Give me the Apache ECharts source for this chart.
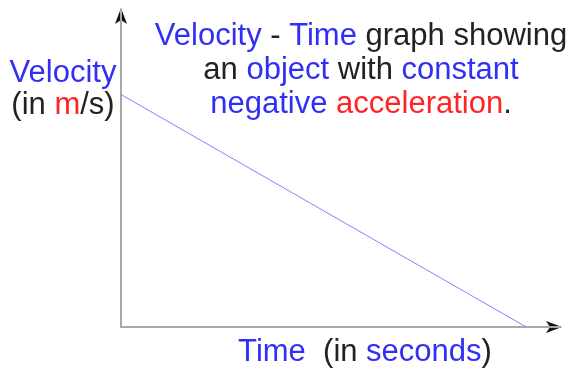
<!DOCTYPE html>
<html>
<head>
<meta charset="utf-8">
<script src="https://cdn.jsdelivr.net/npm/echarts@6/dist/echarts.min.js"></script>
<style>
  html, body { margin: 0; padding: 0; background: #fff; }
  #chart { width: 570px; height: 368px; }
</style>
</head>
<body>
<div id="chart"></div>
<script>
// data (no ticks shown, so units are arbitrary)
const times = [0, 12];
const velocities = [22, 0];
const xMax = 13;
const yMax = 30;

const BLUE = "#2f2ff5";
const RED = "#ff2424";
const DARK = "#222";
const FONT = "Liberation Sans, Arial, sans-serif";

const chart = echarts.init(document.getElementById("chart"));

// same font on every rich token, only colour changes
const rich = (size) => ({
  b: { color: BLUE, fontSize: size, fontFamily: FONT },
  r: { color: RED, fontSize: size, fontFamily: FONT },
  k: { color: DARK, fontSize: size, fontFamily: FONT },
});

const option = {
  animation: false,
  backgroundColor: "#fff",
  grid: { left: 121, right: 10, top: 10, bottom: 41 },
  title: [
    {
      text: "{b|Velocity} - {b|Time} graph showing\nan {b|object} with {b|constant}\n{b|negative} {r|acceleration}.",
      left: 361,
      top: 19,
      padding: 0,
      textAlign: "center",
      textStyle: { color: DARK, fontSize: 31, fontWeight: "normal", fontFamily: FONT, lineHeight: 34, rich: rich(31) },
    },
    {
      text: "{b|Velocity}\n(in {r|m}/s)",
      left: 63,
      top: 57,
      padding: 0,
      textAlign: "center",
      textStyle: { color: DARK, fontSize: 31, fontWeight: "normal", fontFamily: FONT, lineHeight: 32, rich: rich(31) },
    },
    {
      text: "{b|Time}  (in {b|seconds})",
      left: 365,
      top: 335,
      padding: 0,
      textAlign: "center",
      textStyle: { color: DARK, fontSize: 31, fontWeight: "normal", fontFamily: FONT, lineHeight: 34, rich: rich(31) },
    },
  ],
  xAxis: {
    type: "value",
    min: 0,
    max: xMax,
    axisLine: { show: true, lineStyle: { color: "#a8a8a8", width: 2 } },
    axisTick: { show: false },
    axisLabel: { show: false },
    splitLine: { show: false },
  },
  yAxis: {
    type: "value",
    min: 0,
    max: yMax,
    axisLine: { show: true, lineStyle: { color: "#a8a8a8", width: 2 } },
    axisTick: { show: false },
    axisLabel: { show: false },
    splitLine: { show: false },
  },
  series: [
    {
      type: "line",
      data: times.map((t, i) => [t, velocities[i]]),
      symbol: "none",
      lineStyle: { color: "#8383ff", width: 1 },
    },
  ],
  // black arrow heads at the axis ends
  graphic: [
    {
      type: "polygon",
      shape: { points: [[121, 8], [115, 24], [121, 20], [127, 24]] },
      style: { fill: "#111" },
    },
    {
      type: "polygon",
      shape: { points: [[562, 327], [546, 321], [550, 327], [546, 333]] },
      style: { fill: "#111" },
    },
  ],
};

chart.setOption(option);
</script>
</body>
</html>
